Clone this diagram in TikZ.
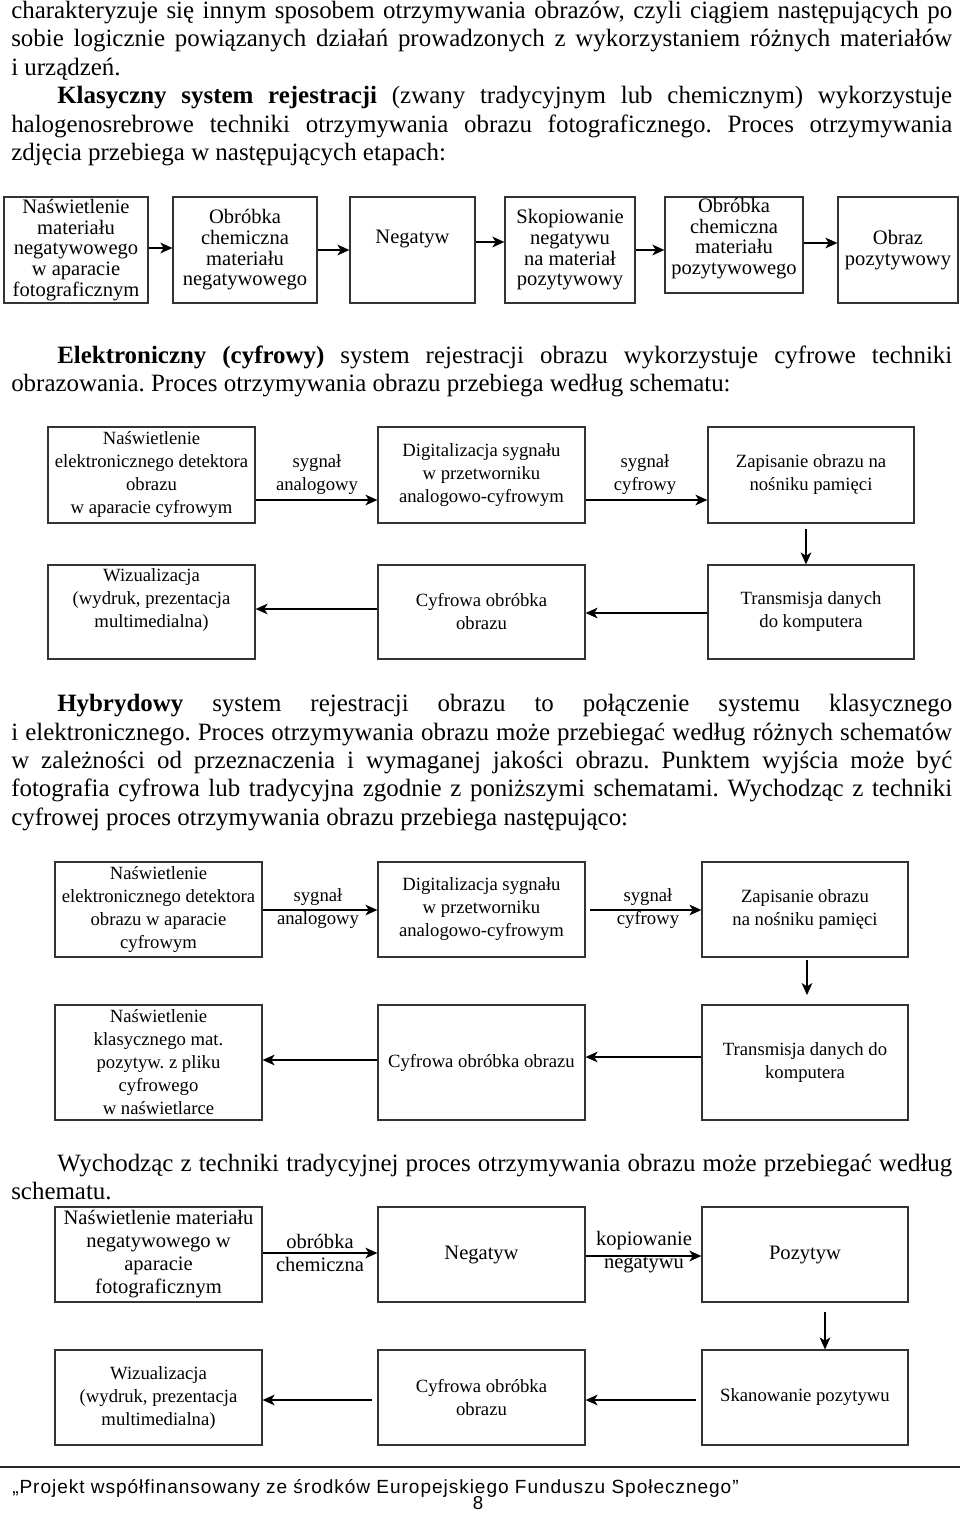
\documentclass[tikz,border=0pt]{standalone}
\usepackage{fontspec}
\setmainfont{Liberation Serif}
\newfontfamily\footfont[LetterSpace=5]{Liberation Sans}
\usetikzlibrary{arrows.meta}
\frenchspacing
\newcommand\bodyfont{\fontsize{18.7}{21}\selectfont}
\newcommand\jl[2]{\makebox[#1][s]{#2}}
\newcommand\bx[7][]{\node[box,#1,minimum width={(#5-#3)*0.75pt},minimum height={(#6-#4)*0.75pt}] (#2) at ({(#3+#5)/2},{(#4+#6)/2}) {#7};}
\begin{document}
\begin{tikzpicture}[x=0.75pt,y=-0.75pt,
 box/.style={draw=black!80,line width=0.9pt,inner sep=0pt,align=center},
 fa/.style={font=\fontsize{15.4}{15.5}\selectfont},
 fb/.style={font=\fontsize{14}{17.25}\selectfont},
 fc/.style={font=\fontsize{15.4}{17.25}\selectfont},
 arr/.style={line width=1.1pt,-{Stealth[length=9pt,width=8pt,inset=2.5pt]}},
 arrA/.style={arr,line width=1.4pt},
 ln/.style={anchor=base west,inner sep=0pt,font=\bodyfont},
 lab/.style={inner sep=0pt,align=center}]
\fill[white] (0,0) rectangle (960,1514);
\useasboundingbox (0,0) rectangle (960,1514);

% ---------- text paragraph 1
\node[ln] (p1) at (11,18) {\jl{705.75pt}{charakteryzuje się innym sposobem otrzymywania obrazów, czyli ciągiem następujących po}};
\node[ln] (p2) at (11,46.5) {\jl{705.75pt}{sobie logicznie powiązanych działań prowadzonych z wykorzystaniem różnych materiałów}};
\node[ln] (p3) at (11,75) {i urządzeń.};
\node[ln] (p4) at (57,103.5) {\jl{671.25pt}{\textbf{Klasyczny system rejestracji} (zwany tradycyjnym lub chemicznym) wykorzystuje}};
\node[ln] (p5) at (11,132) {\jl{705.75pt}{halogenosrebrowe techniki otrzymywania obrazu fotograficznego. Proces otrzymywania}};
\node[ln] (p6) at (11,160) {zdjęcia przebiega w następujących etapach:};

% ---------- diagram 1
\bx[fa]{b1}{4}{197}{148}{303}{Naświetlenie\\materiału\\negatywowego\\w aparacie\\fotograficznym}
\bx[fa]{b2}{173}{197}{317}{303}{Obróbka\\chemiczna\\materiału\\negatywowego}
\bx[fa]{b3}{350}{197}{475}{303}{}
\node[lab,fa] (b3t) at (412.5,239) {Negatyw};
\bx[fa]{b4}{505}{197}{635}{303}{Skopiowanie\\negatywu\\na materiał\\pozytywowy}
\bx[fa]{b5}{665}{197}{803}{293}{}
\node[lab,fa] (b5t) at (734,238.5) {Obróbka\\chemiczna\\materiału\\pozytywowego};
\bx[fa]{b6}{838}{197}{958}{303}{Obraz\\pozytywowy}
\draw[arrA] (b1.east |- 0,248) -- (b2.west |- 0,248);
\draw[arrA] (b2.east |- 0,250) -- (b3.west |- 0,250);
\draw[arrA] (b3.east |- 0,242) -- (b4.west |- 0,242);
\draw[arrA] (b4.east |- 0,250) -- (b5.west |- 0,250);
\draw[arrA] (b5.east |- 0,243) -- (b6.west |- 0,243);

% ---------- text paragraph 2
\node[ln] (q1) at (57,363) {\jl{671.25pt}{\textbf{Elektroniczny (cyfrowy)} system rejestracji obrazu wykorzystuje cyfrowe techniki}};
\node[ln] (q2) at (11,391) {obrazowania. Proces otrzymywania obrazu przebiega według schematu:};

% ---------- diagram 2
\bx[fb]{da}{48}{427}{255}{523}{Naświetlenie\\elektronicznego detektora\\obrazu\\w aparacie cyfrowym}
\bx[fb]{db}{378}{427}{585}{523}{Digitalizacja sygnału\\w przetworniku\\analogowo-cyfrowym}
\bx[fb]{dc}{708}{427}{914}{523}{Zapisanie obrazu na\\nośniku pamięci}
\bx[fb]{dd}{48}{565}{255}{659}{}
\node[lab,fb] (ddt) at (151.5,600) {Wizualizacja\\(wydruk, prezentacja\\multimedialna)};
\bx[fb]{de}{378}{565}{585}{659}{Cyfrowa obróbka\\obrazu}
\bx[fb]{df}{708}{565}{914}{659}{Transmisja danych\\do komputera}
\node[lab,fb] (dl1) at (317,474.5) {sygnał\\analogowy};
\node[lab,fb] (dl2) at (645,474.5) {sygnał\\cyfrowy};
\draw[arr] (da.east |- 0,500) -- (db.west |- 0,500);
\draw[arr] (db.east |- 0,500) -- (dc.west |- 0,500);
\draw[arr] ([yshift=-4pt]dc.south -| 806,0) -- (df.north -| 806,0);
\draw[arr] (df.west |- 0,613) -- (de.east |- 0,613);
\draw[arr] (de.west |- 0,609) -- (dd.east |- 0,609);

% ---------- text paragraph 3
\node[ln] (h1) at (57,711.5) {\jl{671.25pt}{\textbf{Hybrydowy} system rejestracji obrazu to połączenie systemu klasycznego}};
\node[ln] (h2) at (11,740) {\jl{705.75pt}{i elektronicznego. Proces otrzymywania obrazu może przebiegać według różnych schematów}};
\node[ln] (h3) at (11,768) {\jl{705.75pt}{w zależności od przeznaczenia i wymaganej jakości obrazu. Punktem wyjścia może być}};
\node[ln] (h4) at (11,796.5) {\jl{705.75pt}{fotografia cyfrowa lub tradycyjna zgodnie z poniższymi schematami. Wychodząc z techniki}};
\node[ln] (h5) at (11,825) {cyfrowej proces otrzymywania obrazu przebiega następująco:};

% ---------- diagram 3
\bx[fb]{ha}{55}{862}{262}{957}{Naświetlenie\\elektronicznego detektora\\obrazu w aparacie\\cyfrowym}
\bx[fb]{hb}{378}{862}{585}{957}{Digitalizacja sygnału\\w przetworniku\\analogowo-cyfrowym}
\bx[fb]{hc}{702}{862}{908}{957}{Zapisanie obrazu\\na nośniku pamięci}
\bx[fb]{hd}{55}{1005}{262}{1120}{Naświetlenie\\klasycznego mat.\\pozytyw. z pliku\\cyfrowego\\w naświetlarce}
\bx[fb]{he}{378}{1005}{585}{1120}{Cyfrowa obróbka obrazu}
\bx[fb]{hf}{702}{1005}{908}{1120}{Transmisja danych do\\komputera}
\node[lab,fb] (hl1) at (318,908.5) {sygnał\\analogowy};
\node[lab,fb] (hl2) at (648,908.5) {sygnał\\cyfrowy};
\draw[arr] (ha.east |- 0,910) -- (hb.west |- 0,910);
\draw[arr] ([xshift=3pt]hb.east |- 0,910) -- (hc.west |- 0,910);
\draw[arr] ([yshift=-2pt]hc.south -| 807,0) -- ([yshift=7pt]hf.north -| 807,0);
\draw[arr] (hf.west |- 0,1057) -- (he.east |- 0,1057);
\draw[arr] (he.west |- 0,1060) -- (hd.east |- 0,1060);

% ---------- text paragraph 4
\node[ln] (w1) at (57,1171) {\jl{671.25pt}{Wychodząc z techniki tradycyjnej proces otrzymywania obrazu może przebiegać według}};
\node[ln] (w2) at (11,1199) {schematu.};

% ---------- diagram 4
\bx[fc]{ta}{55}{1207}{262}{1302}{Naświetlenie materiału\\negatywowego w\\aparacie\\fotograficznym}
\bx[fc]{tb}{378}{1207}{585}{1302}{Negatyw}
\bx[fc]{tc}{702}{1207}{908}{1302}{Pozytyw}
\bx[fb]{td}{55}{1350}{262}{1445}{Wizualizacja\\(wydruk, prezentacja\\multimedialna)}
\bx[fb]{te}{378}{1350}{585}{1445}{Cyfrowa obróbka\\obrazu}
\bx[fb]{tf}{702}{1350}{908}{1445}{Skanowanie pozytywu}
\node[lab,fc] (tl1) at (320,1252.5) {obróbka\\chemiczna};
\node[lab,fc] (tl2) at (644,1252.5) {kopiowanie\\negatywu};
\draw[arr] (ta.east |- 0,1253) -- (tb.west |- 0,1253);
\draw[arr] (tb.east |- 0,1256) -- (tc.west |- 0,1256);
\draw[arr] ([yshift=-7pt]tc.south -| 825,0) -- (tf.north -| 825,0);
\draw[arr] ([xshift=-4pt]tf.west |- 0,1400) -- (te.east |- 0,1400);
\draw[arr] ([xshift=-4pt]te.west |- 0,1400) -- (td.east |- 0,1400);

% ---------- footer
\draw[line width=1.1pt,black!85] (0,1467) -- (960,1467);
\node[anchor=west,inner sep=0pt,font=\footfont\fontsize{14.3}{16}\selectfont] (ft) at (12,1488) {„Projekt współfinansowany ze środków Europejskiego Funduszu Społecznego”};
\node[inner sep=0pt,font=\footfont\fontsize{14}{16}\selectfont] (pg) at (478,1503) {8};
\end{tikzpicture}
\end{document}
